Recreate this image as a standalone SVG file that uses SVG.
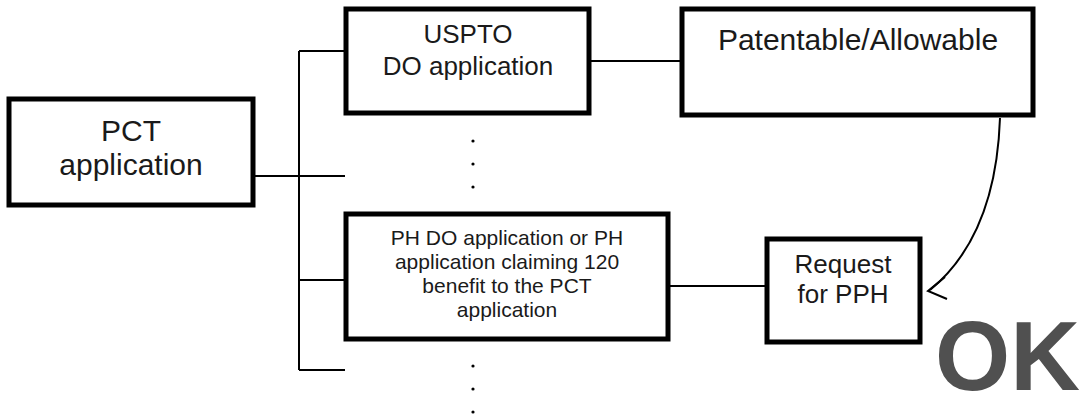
<svg xmlns="http://www.w3.org/2000/svg" width="1084" height="417" viewBox="0 0 1084 417">
<style>
.box{fill:#fff;stroke:#000;stroke-width:5}
.ln{fill:none;stroke:#000;stroke-width:2}
.t{font-family:"Liberation Sans",Arial,sans-serif;fill:#1a1a1a;text-anchor:middle}
.dot{fill:#000}
</style>
<rect width="1084" height="417" fill="#fff"/>
<g id="connectors">
<path class="ln" d="M299,51 V370 M299,51 H346 M255,176 H345 M299,280 H346 M299,370 H345"/>
<path class="ln" d="M591,61 H682"/>
<path class="ln" d="M668,286 H767"/>
<path class="ln" d="M1000,118 C998,175 985,245 930,290"/>
<path class="ln" d="M945,277 L928,291 L947,299"/>
</g>
<g id="pct">
<rect class="box" x="9" y="99" width="244" height="106"/>
<text class="t" x="131" y="141" font-size="30">PCT</text>
<text class="t" x="131" y="175" font-size="30">application</text>
</g>
<g id="uspto">
<rect class="box" x="346" y="9" width="243" height="104"/>
<text class="t" x="468" y="43" font-size="26">USPTO</text>
<text class="t" x="468" y="75" font-size="26">DO application</text>
</g>
<g id="patentable">
<rect class="box" x="682" y="9" width="351" height="106"/>
<text class="t" x="858" y="50" font-size="30">Patentable/Allowable</text>
</g>
<g id="ph">
<rect class="box" x="346" y="214" width="322" height="125"/>
<text class="t" x="507" y="245" font-size="21">PH DO application or PH</text>
<text class="t" x="507" y="269" font-size="21">application claiming 120</text>
<text class="t" x="507" y="293" font-size="21">benefit to the PCT</text>
<text class="t" x="507" y="317" font-size="21">application</text>
</g>
<g id="request">
<rect class="box" x="767" y="239" width="153" height="103"/>
<text class="t" x="843" y="273" font-size="26">Request</text>
<text class="t" x="843" y="303" font-size="26">for PPH</text>
</g>
<g id="dots1">
<circle class="dot" cx="473" cy="141" r="1.6"/>
<circle class="dot" cx="473" cy="164" r="1.6"/>
<circle class="dot" cx="473" cy="187" r="1.6"/>
</g>
<g id="dots2">
<circle class="dot" cx="473" cy="366" r="1.6"/>
<circle class="dot" cx="473" cy="389" r="1.6"/>
<circle class="dot" cx="473" cy="412" r="1.6"/>
</g>
<g id="ok">
<text x="935" y="390" font-family="'Liberation Sans',Arial,sans-serif" font-weight="bold" font-size="98" fill="#505050" textLength="145" lengthAdjust="spacingAndGlyphs">OK</text>
</g>
</svg>
